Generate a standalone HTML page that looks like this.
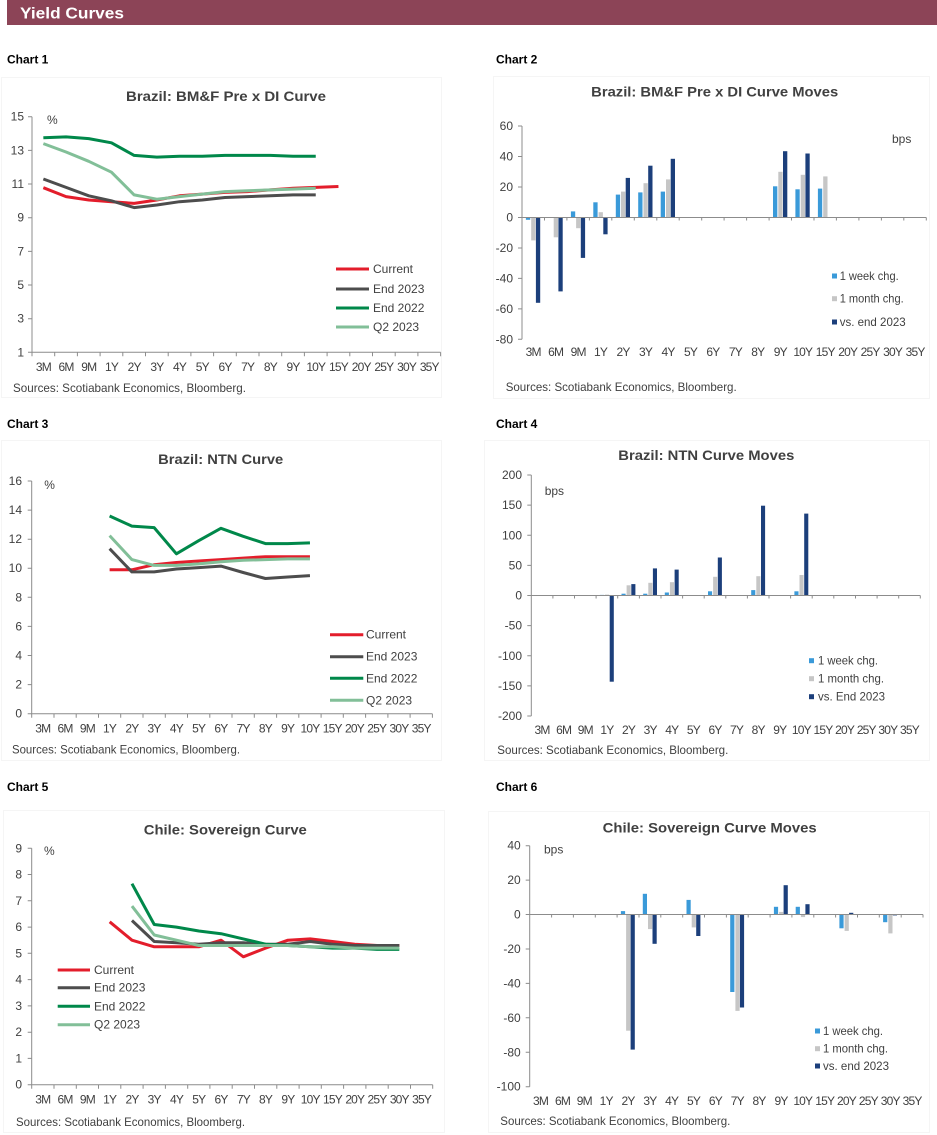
<!DOCTYPE html>
<html><head><meta charset="utf-8"><style>
html,body{margin:0;padding:0;background:#fff;}
svg{display:block;font-family:"Liberation Sans",Arial,sans-serif;}
.t{font-weight:bold;font-size:14px;fill:#404040;text-anchor:middle;}
.ch{font-weight:bold;font-size:12px;fill:#000;}
.yl{font-size:12px;fill:#404040;text-anchor:end;}
.xl{font-size:12px;fill:#404040;text-anchor:middle;letter-spacing:-0.8px;}
.src{font-size:12px;fill:#404040;}
.lg{font-size:12px;fill:#404040;}
.ax{stroke:#8c8c8c;stroke-width:1;fill:none;}
.ln{fill:none;stroke-width:3;stroke-linejoin:round;stroke-linecap:butt;}
.cur{stroke:#e31d2b;} .e23{stroke:#4d4d4d;} .e22{stroke:#00884a;} .q2{stroke:#82bf98;}
.b1{fill:#3a9ad9;} .b2{fill:#c6c6c6;} .b3{fill:#1c3f7b;}
.frame{fill:none;stroke:#f5f5f5;stroke-width:1;}
</style></head><body>
<svg width="937" height="1135" viewBox="0 0 937 1135" xmlns="http://www.w3.org/2000/svg">
<rect x="0" y="0" width="937" height="1135" fill="#fff"/>
<!-- header -->
<rect x="7" y="0" width="930" height="25" fill="#8c4457"/>
<text x="20" y="18.5" font-size="16" font-weight="bold" fill="#fff" textLength="104" lengthAdjust="spacingAndGlyphs">Yield Curves</text>

<!-- chart labels -->
<text class="ch" x="7" y="63.5">Chart 1</text>
<text class="ch" x="496" y="63.5">Chart 2</text>
<text class="ch" x="7" y="427.8">Chart 3</text>
<text class="ch" x="496" y="427.8">Chart 4</text>
<text class="ch" x="7" y="791">Chart 5</text>
<text class="ch" x="496" y="791">Chart 6</text>

<!-- frames -->
<rect class="frame" x="1.5" y="77.5" width="440" height="320"/>
<rect class="frame" x="493.5" y="76.5" width="436" height="322"/>
<rect class="frame" x="1.5" y="440.5" width="440" height="320"/>
<rect class="frame" x="484.5" y="440.5" width="445" height="320"/>
<rect class="frame" x="3.5" y="810.5" width="441" height="322"/>
<rect class="frame" x="488.5" y="811.5" width="441" height="321"/>

<!-- ================= CHART 1 ================= -->
<text class="t" x="226" y="101" textLength="200" lengthAdjust="spacingAndGlyphs">Brazil: BM&amp;F Pre x DI Curve</text>
<path class="ax" d="M32,116.7V352.3H440.6"/>
<path class="ax" d="M28,116.7h4M28,150.4h4M28,184h4M28,217.7h4M28,251.4h4M28,285h4M28,318.7h4M28,352.3h4"/>
<path class="ax" d="M32,352.3v4M54.7,352.3v4M77.4,352.3v4M100.1,352.3v4M122.8,352.3v4M145.5,352.3v4M168.2,352.3v4M190.9,352.3v4M213.6,352.3v4M236.3,352.3v4M259,352.3v4M281.7,352.3v4M304.4,352.3v4M327.1,352.3v4M349.8,352.3v4M372.5,352.3v4M395.2,352.3v4M417.9,352.3v4M440.6,352.3v4"/>
<g class="yl">
<text x="24" y="120.7">15</text><text x="24" y="154.4">13</text><text x="24" y="188">11</text><text x="24" y="221.7">9</text><text x="24" y="255.4">7</text><text x="24" y="289">5</text><text x="24" y="322.7">3</text><text x="24" y="356.3">1</text>
</g>
<g class="xl">
<text x="43.4" y="371">3M</text><text x="66.1" y="371">6M</text><text x="88.8" y="371">9M</text><text x="111.5" y="371">1Y</text><text x="134.2" y="371">2Y</text><text x="156.9" y="371">3Y</text><text x="179.6" y="371">4Y</text><text x="202.3" y="371">5Y</text><text x="225" y="371">6Y</text><text x="247.7" y="371">7Y</text><text x="270.4" y="371">8Y</text><text x="293.1" y="371">9Y</text><text x="315.8" y="371">10Y</text><text x="338.5" y="371">15Y</text><text x="361.2" y="371">20Y</text><text x="383.9" y="371">25Y</text><text x="406.6" y="371">30Y</text><text x="429.3" y="371">35Y</text>
</g>
<text class="lg" x="47" y="124">%</text>
<polyline class="ln cur" points="43.35,187.7 66.05,196.6 88.75,200.0 111.45,201.7 134.15,203.4 156.85,200.0 179.55,195.8 202.25,194.1 224.95,192.4 247.65,191.6 270.35,189.9 293.05,188.2 315.75,187.4 338.45,186.5"/>
<polyline class="ln e23" points="43.35,179.0 66.05,187.4 88.75,195.8 111.45,200.8 134.15,207.6 156.85,205.0 179.55,201.7 202.25,200.0 224.95,197.5 247.65,196.6 270.35,195.8 293.05,194.9 315.75,194.9"/>
<polyline class="ln e22" points="43.35,137.7 66.05,136.9 88.75,138.6 111.45,142.8 134.15,155.4 156.85,157.1 179.55,156.2 202.25,156.2 224.95,155.4 247.65,155.4 270.35,155.4 293.05,156.2 315.75,156.2"/>
<polyline class="ln q2" points="43.35,143.6 66.05,152.0 88.75,161.3 111.45,172.2 134.15,194.9 156.85,199.2 179.55,196.6 202.25,194.1 224.95,191.6 247.65,190.7 270.35,189.9 293.05,189.1 315.75,188.2"/>
<path class="ln cur" d="M336,269H369"/><path class="ln e23" d="M336,289H369"/><path class="ln e22" d="M336,308H369"/><path class="ln q2" d="M336,327H369"/>
<text class="lg" x="373" y="273">Current</text><text class="lg" x="373" y="293">End 2023</text><text class="lg" x="373" y="312">End 2022</text><text class="lg" x="373" y="331">Q2 2023</text>
<text class="src" x="13" y="392" textLength="233" lengthAdjust="spacingAndGlyphs">Sources: Scotiabank Economics, Bloomberg.</text>

<!-- ================= CHART 2 ================= -->
<text class="t" x="714.7" y="96.7" textLength="247" lengthAdjust="spacingAndGlyphs">Brazil: BM&amp;F Pre x DI Curve Moves</text>
<g>
<rect class="b1" x="525.9" y="217.5" width="4.3" height="2.3"/><rect class="b2" x="531.2" y="217.5" width="4.3" height="22.9"/><rect class="b3" x="535.9" y="217.5" width="4.3" height="85.3"/>
<rect class="b2" x="553.7" y="217.5" width="4.3" height="19.8"/><rect class="b3" x="558.4" y="217.5" width="4.3" height="73.9"/>
<rect class="b1" x="570.9" y="211.4" width="4.3" height="6.1"/><rect class="b2" x="576.1" y="217.5" width="4.3" height="10.7"/><rect class="b3" x="580.8" y="217.5" width="4.3" height="40.4"/>
<rect class="b1" x="593.3" y="202.3" width="4.3" height="15.2"/><rect class="b2" x="598.6" y="212.2" width="4.3" height="5.3"/><rect class="b3" x="603.3" y="217.5" width="4.3" height="16.8"/>
<rect class="b1" x="615.8" y="194.6" width="4.3" height="22.9"/><rect class="b2" x="621.0" y="191.6" width="4.3" height="25.9"/><rect class="b3" x="625.7" y="177.9" width="4.3" height="39.6"/>
<rect class="b1" x="638.2" y="192.4" width="4.3" height="25.1"/><rect class="b2" x="643.5" y="183.2" width="4.3" height="34.3"/><rect class="b3" x="648.2" y="165.7" width="4.3" height="51.8"/>
<rect class="b1" x="660.7" y="191.6" width="4.3" height="25.9"/><rect class="b2" x="666.0" y="179.4" width="4.3" height="38.1"/><rect class="b3" x="670.7" y="158.8" width="4.3" height="58.7"/>
<rect class="b1" x="773.0" y="186.3" width="4.3" height="31.2"/><rect class="b2" x="778.3" y="171.8" width="4.3" height="45.7"/><rect class="b3" x="783.0" y="151.2" width="4.3" height="66.3"/>
<rect class="b1" x="795.4" y="189.3" width="4.3" height="28.2"/><rect class="b2" x="800.7" y="174.8" width="4.3" height="42.7"/><rect class="b3" x="805.4" y="153.5" width="4.3" height="64"/>
<rect class="b1" x="817.9" y="188.6" width="4.3" height="28.9"/><rect class="b2" x="823.2" y="176.4" width="4.3" height="41.1"/>
</g>
<path class="ax" d="M522,126V339.3M522,217.5H926.3"/>
<path class="ax" d="M518,126h4M518,156.5h4M518,187h4M518,217.5h4M518,248h4M518,278.4h4M518,308.9h4M518,339.3h4"/>
<path class="ax" d="M544.5,217.5v3M566.9,217.5v3M589.4,217.5v3M611.8,217.5v3M634.3,217.5v3M656.8,217.5v3M679.2,217.5v3M701.7,217.5v3M724.1,217.5v3M746.6,217.5v3M769.1,217.5v3M791.5,217.5v3M814,217.5v3M836.4,217.5v3M858.9,217.5v3M881.4,217.5v3M903.8,217.5v3M926.3,217.5v3"/>
<g class="yl">
<text x="513" y="130">60</text><text x="513" y="160.5">40</text><text x="513" y="191">20</text><text x="513" y="221.5">0</text><text x="513" y="252">-20</text><text x="513" y="282.4">-40</text><text x="513" y="312.9">-60</text><text x="513" y="343.3">-80</text>
</g>
<g class="xl">
<text x="533.2" y="356">3M</text><text x="555.7" y="356">6M</text><text x="578.2" y="356">9M</text><text x="600.6" y="356">1Y</text><text x="623.1" y="356">2Y</text><text x="645.5" y="356">3Y</text><text x="668" y="356">4Y</text><text x="690.5" y="356">5Y</text><text x="712.9" y="356">6Y</text><text x="735.4" y="356">7Y</text><text x="757.8" y="356">8Y</text><text x="780.3" y="356">9Y</text><text x="802.8" y="356">10Y</text><text x="825.2" y="356">15Y</text><text x="847.7" y="356">20Y</text><text x="870.1" y="356">25Y</text><text x="892.6" y="356">30Y</text><text x="915.1" y="356">35Y</text>
</g>
<text class="lg" x="892" y="143">bps</text>
<rect class="b1" x="832" y="273.5" width="5" height="5"/><rect class="b2" x="832" y="296.2" width="5" height="5"/><rect class="b3" x="832" y="319.5" width="5" height="5"/>
<text class="lg" x="839.7" y="280" textLength="59" lengthAdjust="spacingAndGlyphs">1 week chg.</text>
<text class="lg" x="839.7" y="302.7" textLength="64" lengthAdjust="spacingAndGlyphs">1 month chg.</text>
<text class="lg" x="839.7" y="326" textLength="66" lengthAdjust="spacingAndGlyphs">vs. end 2023</text>
<text class="src" x="505.7" y="391" textLength="231" lengthAdjust="spacingAndGlyphs">Sources: Scotiabank Economics, Bloomberg.</text>

<!-- ================= CHART 3 ================= -->
<text class="t" x="220.7" y="464" textLength="125" lengthAdjust="spacingAndGlyphs">Brazil: NTN Curve</text>
<path class="ax" d="M31.7,481V713.7H432.4"/>
<path class="ax" d="M27.7,481h4M27.7,510.1h4M27.7,539.2h4M27.7,568.2h4M27.7,597.3h4M27.7,626.4h4M27.7,655.5h4M27.7,684.6h4M27.7,713.7h4"/>
<path class="ax" d="M31.7,713.7v4M54,713.7v4M76.2,713.7v4M98.5,713.7v4M120.7,713.7v4M143,713.7v4M165.3,713.7v4M187.5,713.7v4M209.8,713.7v4M232,713.7v4M254.3,713.7v4M276.6,713.7v4M298.8,713.7v4M321.1,713.7v4M343.3,713.7v4M365.6,713.7v4M387.9,713.7v4M410.1,713.7v4M432.4,713.7v4"/>
<g class="yl">
<text x="22" y="485">16</text><text x="22" y="514.1">14</text><text x="22" y="543.2">12</text><text x="22" y="572.2">10</text><text x="22" y="601.3">8</text><text x="22" y="630.4">6</text><text x="22" y="659.5">4</text><text x="22" y="688.6">2</text><text x="22" y="717.7">0</text>
</g>
<g class="xl">
<text x="42.8" y="732.5">3M</text><text x="65.1" y="732.5">6M</text><text x="87.4" y="732.5">9M</text><text x="109.6" y="732.5">1Y</text><text x="131.9" y="732.5">2Y</text><text x="154.1" y="732.5">3Y</text><text x="176.4" y="732.5">4Y</text><text x="198.7" y="732.5">5Y</text><text x="220.9" y="732.5">6Y</text><text x="243.2" y="732.5">7Y</text><text x="265.4" y="732.5">8Y</text><text x="287.7" y="732.5">9Y</text><text x="310" y="732.5">10Y</text><text x="332.2" y="732.5">15Y</text><text x="354.5" y="732.5">20Y</text><text x="376.7" y="732.5">25Y</text><text x="399" y="732.5">30Y</text><text x="421.2" y="732.5">35Y</text>
</g>
<text class="lg" x="44.3" y="489">%</text>
<polyline class="ln cur" points="109.61,569.8 131.87,569.8 154.13,564.7 176.39,562.5 198.65,561.0 220.91,559.6 243.17,558.1 265.43,556.7 287.69,556.7 309.95,556.7"/>
<polyline class="ln e23" points="109.61,548.7 131.87,571.9 154.13,571.9 176.39,569.0 198.65,567.6 220.91,566.1 243.17,572.5 265.43,578.5 287.69,577.0 309.95,575.6"/>
<polyline class="ln e22" points="109.61,516.0 131.87,526.1 154.13,527.6 176.39,553.8 198.65,540.7 220.91,528.3 243.17,536.3 265.43,543.6 287.69,543.6 309.95,542.9"/>
<polyline class="ln q2" points="109.61,535.6 131.87,559.6 154.13,565.4 176.39,565.4 198.65,563.9 220.91,561.8 243.17,560.3 265.43,559.6 287.69,558.9 309.95,558.9"/>
<path class="ln cur" d="M330,634.7H363.3"/><path class="ln e23" d="M330,656.7H363.3"/><path class="ln e22" d="M330,678.3H363.3"/><path class="ln q2" d="M330,700.3H363.3"/>
<text class="lg" x="366" y="638.7">Current</text><text class="lg" x="366" y="660.7">End 2023</text><text class="lg" x="366" y="682.3">End 2022</text><text class="lg" x="366" y="704.3">Q2 2023</text>
<text class="src" x="12" y="753.5" textLength="228" lengthAdjust="spacingAndGlyphs">Sources: Scotiabank Economics, Bloomberg.</text>

<!-- ================= CHART 4 ================= -->
<text class="t" x="706.3" y="460" textLength="176" lengthAdjust="spacingAndGlyphs">Brazil: NTN Curve Moves</text>
<g>
<rect class="b1" x="599.9" y="594.9" width="4.1" height="0.6"/><rect class="b2" x="605" y="594.6" width="4.1" height="0.9"/><rect class="b3" x="609.7" y="595.5" width="4.1" height="86.2"/>
<rect class="b1" x="621.5" y="593.7" width="4.1" height="1.8"/><rect class="b2" x="626.6" y="585.3" width="4.1" height="10.2"/><rect class="b3" x="631.3" y="584.1" width="4.1" height="11.4"/>
<rect class="b1" x="643.2" y="593.7" width="4.1" height="1.8"/><rect class="b2" x="648.3" y="582.8" width="4.1" height="12.7"/><rect class="b3" x="652.9" y="568.4" width="4.1" height="27.1"/>
<rect class="b1" x="664.8" y="592.5" width="4.1" height="3"/><rect class="b2" x="669.9" y="582.2" width="4.1" height="13.3"/><rect class="b3" x="674.6" y="569.6" width="4.1" height="25.9"/>
<rect class="b1" x="708" y="591.3" width="4.1" height="4.2"/><rect class="b2" x="713.1" y="576.8" width="4.1" height="18.7"/><rect class="b3" x="717.8" y="557.5" width="4.1" height="38"/>
<rect class="b1" x="751.2" y="590.1" width="4.1" height="5.4"/><rect class="b2" x="756.3" y="576.2" width="4.1" height="19.3"/><rect class="b3" x="761" y="505.7" width="4.1" height="89.8"/>
<rect class="b1" x="794.4" y="591.3" width="4.1" height="4.2"/><rect class="b2" x="799.5" y="575" width="4.1" height="20.5"/><rect class="b3" x="804.2" y="513.6" width="4.1" height="81.9"/>
</g>
<path class="ax" d="M531.3,475V716M531.3,595.5H920.3"/>
<path class="ax" d="M527.3,475h4M527.3,505.1h4M527.3,535.3h4M527.3,565.4h4M527.3,595.5h4M527.3,625.6h4M527.3,655.8h4M527.3,685.9h4M527.3,716h4"/>
<path class="ax" d="M552.9,595.5v3M574.5,595.5v3M596.1,595.5v3M617.7,595.5v3M639.4,595.5v3M661,595.5v3M682.6,595.5v3M704.2,595.5v3M725.8,595.5v3M747.4,595.5v3M769,595.5v3M790.6,595.5v3M812.2,595.5v3M833.8,595.5v3M855.5,595.5v3M877.1,595.5v3M898.7,595.5v3M920.3,595.5v3"/>
<g class="yl">
<text x="522" y="479">200</text><text x="522" y="509.1">150</text><text x="522" y="539.3">100</text><text x="522" y="569.4">50</text><text x="522" y="599.5">0</text><text x="522" y="629.6">-50</text><text x="522" y="659.8">-100</text><text x="522" y="689.9">-150</text><text x="522" y="720">-200</text>
</g>
<g class="xl">
<text x="542.1" y="734">3M</text><text x="563.7" y="734">6M</text><text x="585.3" y="734">9M</text><text x="606.9" y="734">1Y</text><text x="628.5" y="734">2Y</text><text x="650.2" y="734">3Y</text><text x="671.8" y="734">4Y</text><text x="693.4" y="734">5Y</text><text x="715" y="734">6Y</text><text x="736.6" y="734">7Y</text><text x="758.2" y="734">8Y</text><text x="779.8" y="734">9Y</text><text x="801.4" y="734">10Y</text><text x="823" y="734">15Y</text><text x="844.6" y="734">20Y</text><text x="866.3" y="734">25Y</text><text x="887.9" y="734">30Y</text><text x="909.5" y="734">35Y</text>
</g>
<text class="lg" x="544.7" y="495">bps</text>
<rect class="b1" x="809" y="658.2" width="5" height="5"/><rect class="b2" x="809" y="676.2" width="5" height="5"/><rect class="b3" x="809" y="694.2" width="5" height="5"/>
<text class="lg" x="818" y="664.7" textLength="60" lengthAdjust="spacingAndGlyphs">1 week chg.</text>
<text class="lg" x="818" y="682.7" textLength="66" lengthAdjust="spacingAndGlyphs">1 month chg.</text>
<text class="lg" x="818" y="700.7" textLength="67" lengthAdjust="spacingAndGlyphs">vs. End 2023</text>
<text class="src" x="497.3" y="754" textLength="231" lengthAdjust="spacingAndGlyphs">Sources: Scotiabank Economics, Bloomberg.</text>

<!-- ================= CHART 5 ================= -->
<text class="t" x="225.3" y="834.3" textLength="163" lengthAdjust="spacingAndGlyphs">Chile: Sovereign Curve</text>
<path class="ax" d="M31.7,848.3V1084.7H432.7"/>
<path class="ax" d="M27.7,848.3h4M27.7,874.5h4M27.7,900.8h4M27.7,927.1h4M27.7,953.3h4M27.7,979.6h4M27.7,1005.9h4M27.7,1032.2h4M27.7,1058.4h4M27.7,1084.7h4"/>
<path class="ax" d="M31.7,1084.7v4M54,1084.7v4M76.3,1084.7v4M98.5,1084.7v4M120.8,1084.7v4M143.1,1084.7v4M165.4,1084.7v4M187.7,1084.7v4M209.9,1084.7v4M232.2,1084.7v4M254.5,1084.7v4M276.8,1084.7v4M299.1,1084.7v4M321.3,1084.7v4M343.6,1084.7v4M365.9,1084.7v4M388.2,1084.7v4M410.5,1084.7v4M432.7,1084.7v4"/>
<g class="yl">
<text x="22" y="852.3">9</text><text x="22" y="878.5">8</text><text x="22" y="904.8">7</text><text x="22" y="931.1">6</text><text x="22" y="957.3">5</text><text x="22" y="983.6">4</text><text x="22" y="1009.9">3</text><text x="22" y="1036.2">2</text><text x="22" y="1062.4">1</text><text x="22" y="1088.7">0</text>
</g>
<g class="xl">
<text x="42.8" y="1103.5">3M</text><text x="65.1" y="1103.5">6M</text><text x="87.4" y="1103.5">9M</text><text x="109.7" y="1103.5">1Y</text><text x="132" y="1103.5">2Y</text><text x="154.2" y="1103.5">3Y</text><text x="176.5" y="1103.5">4Y</text><text x="198.8" y="1103.5">5Y</text><text x="221.1" y="1103.5">6Y</text><text x="243.4" y="1103.5">7Y</text><text x="265.6" y="1103.5">8Y</text><text x="287.9" y="1103.5">9Y</text><text x="310.2" y="1103.5">10Y</text><text x="332.5" y="1103.5">15Y</text><text x="354.8" y="1103.5">20Y</text><text x="377" y="1103.5">25Y</text><text x="399.3" y="1103.5">30Y</text><text x="421.6" y="1103.5">35Y</text>
</g>
<text class="lg" x="44" y="855">%</text>
<polyline class="ln cur" points="109.68,921.8 131.96,940.2 154.24,946.8 176.52,946.8 198.8,946.8 221.08,940.2 243.36,956.8 265.64,948.1 287.92,940.2 310.2,938.9 332.48,941.5 354.76,944.2 377.04,945.5 399.32,945.5"/>
<polyline class="ln e23" points="131.96,920.5 154.24,941.5 176.52,942.8 198.8,944.2 221.08,942.8 243.36,942.8 265.64,944.2 287.92,944.2 310.2,941.5 332.48,944.2 354.76,945.5 377.04,945.5 399.32,945.5"/>
<polyline class="ln e22" points="131.96,883.7 154.24,924.5 176.52,927.1 198.8,931.0 221.08,933.7 243.36,938.9 265.64,944.2 287.92,945.5 310.2,946.8 332.48,948.1 354.76,948.1 377.04,949.4 399.32,949.4"/>
<polyline class="ln q2" points="131.96,906.1 154.24,935.0 176.52,940.2 198.8,945.5 221.08,945.5 243.36,945.5 265.64,945.5 287.92,945.5 310.2,946.8 332.48,946.8 354.76,948.1 377.04,948.1 399.32,948.1"/>
<path class="ln cur" d="M57.7,970H90"/><path class="ln e23" d="M57.7,987.7H90"/><path class="ln e22" d="M57.7,1006.3H90"/><path class="ln q2" d="M57.7,1024.7H90"/>
<text class="lg" x="94" y="974">Current</text><text class="lg" x="94" y="991.7">End 2023</text><text class="lg" x="94" y="1010.3">End 2022</text><text class="lg" x="94" y="1028.7">Q2 2023</text>
<text class="src" x="16" y="1126" textLength="229" lengthAdjust="spacingAndGlyphs">Sources: Scotiabank Economics, Bloomberg.</text>

<!-- ================= CHART 6 ================= -->
<text class="t" x="709.7" y="832.3" textLength="214" lengthAdjust="spacingAndGlyphs">Chile: Sovereign Curve Moves</text>
<g>
<rect class="b1" x="620.9" y="911.1" width="4.2" height="3.4"/><rect class="b2" x="626.1" y="914.5" width="4.2" height="116.2"/><rect class="b3" x="630.6" y="914.5" width="4.2" height="135.1"/>
<rect class="b1" x="642.8" y="893.8" width="4.2" height="20.7"/><rect class="b2" x="648" y="914.5" width="4.2" height="14.6"/><rect class="b3" x="652.5" y="914.5" width="4.2" height="29.3"/>
<rect class="b1" x="686.5" y="899.9" width="4.2" height="14.6"/><rect class="b2" x="691.7" y="914.5" width="4.2" height="12.9"/><rect class="b3" x="696.2" y="914.5" width="4.2" height="21.5"/>
<rect class="b1" x="730.2" y="914.5" width="4.2" height="77.5"/><rect class="b2" x="735.4" y="914.5" width="4.2" height="96.4"/><rect class="b3" x="739.9" y="914.5" width="4.2" height="93"/>
<rect class="b1" x="773.9" y="906.8" width="4.2" height="7.7"/><rect class="b2" x="779.1" y="911.9" width="4.2" height="2.6"/><rect class="b3" x="783.6" y="885.2" width="4.2" height="29.3"/>
<rect class="b1" x="795.7" y="906.8" width="4.2" height="7.7"/><rect class="b2" x="800.9" y="914.5" width="4.2" height="2.6"/><rect class="b3" x="805.4" y="904.2" width="4.2" height="10.3"/>
<rect class="b1" x="839.4" y="914.5" width="4.2" height="13.8"/><rect class="b2" x="844.6" y="914.5" width="4.2" height="16.4"/><rect class="b3" x="849.1" y="912.8" width="4.2" height="1.7"/>
<rect class="b1" x="883.1" y="914.5" width="4.2" height="7.7"/><rect class="b2" x="888.3" y="914.5" width="4.2" height="18.9"/><rect class="b3" x="892.8" y="914.5" width="4.2" height="0.9"/>
</g>
<path class="ax" d="M529.7,845.7V1086.7M529.7,914.5H923"/>
<path class="ax" d="M525.7,845.7h4M525.7,880.1h4M525.7,914.5h4M525.7,949h4M525.7,983.4h4M525.7,1017.8h4M525.7,1052.3h4M525.7,1086.7h4"/>
<path class="ax" d="M551.6,914.5v3M573.4,914.5v3M595.3,914.5v3M617.1,914.5v3M639,914.5v3M660.8,914.5v3M682.7,914.5v3M704.5,914.5v3M726.4,914.5v3M748.2,914.5v3M770.1,914.5v3M791.9,914.5v3M813.8,914.5v3M835.6,914.5v3M857.5,914.5v3M879.3,914.5v3M901.2,914.5v3M923,914.5v3"/>
<g class="yl">
<text x="520.7" y="849.7">40</text><text x="520.7" y="884.1">20</text><text x="520.7" y="918.5">0</text><text x="520.7" y="953">-20</text><text x="520.7" y="987.4">-40</text><text x="520.7" y="1021.8">-60</text><text x="520.7" y="1056.3">-80</text><text x="520.7" y="1090.7">-100</text>
</g>
<g class="xl">
<text x="540.6" y="1105">3M</text><text x="562.5" y="1105">6M</text><text x="584.3" y="1105">9M</text><text x="606.2" y="1105">1Y</text><text x="628" y="1105">2Y</text><text x="649.9" y="1105">3Y</text><text x="671.7" y="1105">4Y</text><text x="693.6" y="1105">5Y</text><text x="715.4" y="1105">6Y</text><text x="737.3" y="1105">7Y</text><text x="759.1" y="1105">8Y</text><text x="781" y="1105">9Y</text><text x="802.8" y="1105">10Y</text><text x="824.7" y="1105">15Y</text><text x="846.5" y="1105">20Y</text><text x="868.4" y="1105">25Y</text><text x="890.2" y="1105">30Y</text><text x="912.1" y="1105">35Y</text>
</g>
<text class="lg" x="544" y="853.5">bps</text>
<rect class="b1" x="815" y="1028.5" width="5" height="5"/><rect class="b2" x="815" y="1046.2" width="5" height="5"/><rect class="b3" x="815" y="1063.5" width="5" height="5"/>
<text class="lg" x="823" y="1035" textLength="60" lengthAdjust="spacingAndGlyphs">1 week chg.</text>
<text class="lg" x="823" y="1052.7" textLength="65" lengthAdjust="spacingAndGlyphs">1 month chg.</text>
<text class="lg" x="823" y="1070" textLength="66" lengthAdjust="spacingAndGlyphs">vs. end 2023</text>
<text class="src" x="500.3" y="1125" textLength="230" lengthAdjust="spacingAndGlyphs">Sources: Scotiabank Economics, Bloomberg.</text>
</svg>
</body></html>
